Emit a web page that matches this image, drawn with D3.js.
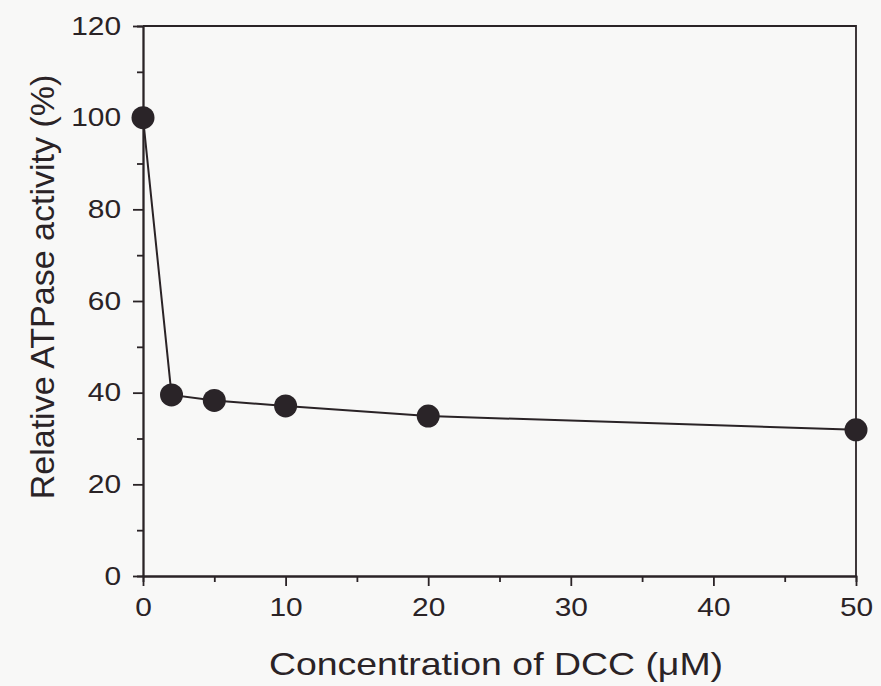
<!DOCTYPE html>
<html>
<head>
<meta charset="utf-8">
<script src="https://cdn.jsdelivr.net/npm/d3@7"></script>
<style>
body { margin: 0; background: #f8f8f7; }
svg { display: block; }
</style>
</head>
<body>
<div id="chart"></div>
<script>
let concentrations = [0, 2, 5, 10, 20, 50];
let activity = [100, 39.5, 38.3, 37.1, 34.9, 31.9];
let xTickValues = [0, 10, 20, 30, 40, 50];
let yTickValues = [0, 20, 40, 60, 80, 100, 120];
let xMinorTicks = [5, 15, 25, 35, 45];
let yMinorTicks = [10, 30, 50, 70, 90, 110];

let width = 881, height = 686;
let plotLeft = 143, plotRight = 856, plotTop = 26, plotBottom = 576;
let ink = "#2a2326";
let fontFamily = "'Liberation Sans', Arial, Helvetica, sans-serif";
let tickStretch = 1.15; // tick digits in the scan are a little wider than Liberation's

let svg = d3.select("#chart")
	.append("svg")
	.attr("width", width)
	.attr("height", height);

let x = d3.scaleLinear().domain([0, 50]).range([plotLeft, plotRight]);
let y = d3.scaleLinear().domain([0, 120]).range([plotBottom, plotTop]);

// frame: top and right sides have no ticks
svg.append("path")
	.attr("d", "M" + plotLeft + "," + plotTop + "H" + plotRight + "V" + plotBottom)
	.attr("fill", "none")
	.attr("stroke", ink)
	.attr("stroke-width", 1.8);

function styleAxis(g) {
	g.select(".domain").attr("stroke", ink).attr("stroke-width", 1.8);
	g.selectAll(".tick line").attr("stroke", ink).attr("stroke-width", 1.8);
	g.selectAll(".tick text")
		.attr("fill", ink)
		.style("font-family", fontFamily)
		.style("font-size", "26px");
}

// minor ticks first so the major axis draws on top
svg.append("g")
	.attr("transform", "translate(0," + plotBottom + ")")
	.call(d3.axisBottom(x).tickValues(xMinorTicks).tickSize(6).tickFormat(""))
	.call(styleAxis);
svg.append("g")
	.attr("transform", "translate(" + plotLeft + ",0)")
	.call(d3.axisLeft(y).tickValues(yMinorTicks).tickSize(6).tickFormat(""))
	.call(styleAxis);

svg.append("g")
	.attr("transform", "translate(0," + plotBottom + ")")
	.call(d3.axisBottom(x).tickValues(xTickValues).tickSize(10).tickSizeOuter(0).tickPadding(12))
	.call(styleAxis)
	.selectAll(".tick text")
	.attr("transform", "scale(" + tickStretch + ",1)");

svg.append("g")
	.attr("transform", "translate(" + plotLeft + ",0)")
	.call(d3.axisLeft(y).tickValues(yTickValues).tickSize(10).tickSizeOuter(0))
	.call(styleAxis)
	.selectAll(".tick text")
	.attr("x", -22 / tickStretch)
	.attr("transform", "scale(" + tickStretch + ",1)");

let points = concentrations.map((c, i) => ({ x: c, y: activity[i] }));

svg.append("path")
	.datum(points)
	.attr("fill", "none")
	.attr("stroke", ink)
	.attr("stroke-width", 2)
	.attr("d", d3.line().x(d => x(d.x)).y(d => y(d.y)));

svg.selectAll(".dot")
	.data(points)
	.enter().append("circle")
	.attr("class", "dot")
	.attr("cx", d => x(d.x))
	.attr("cy", d => y(d.y))
	.attr("r", 11.5)
	.attr("fill", "#2a2428");

svg.append("text")
	.attr("transform", "translate(496,675) scale(1.17,1)")
	.attr("text-anchor", "middle")
	.attr("fill", ink)
	.style("font-family", fontFamily)
	.style("font-size", "32px")
	.text("Concentration of DCC (\u03bcM)");

svg.append("text")
	.attr("transform", "translate(54,287) rotate(-90)")
	.attr("text-anchor", "middle")
	.attr("fill", ink)
	.style("font-family", fontFamily)
	.style("font-size", "34px")
	.text("Relative ATPase activity (%)");
</script>
</body>
</html>
